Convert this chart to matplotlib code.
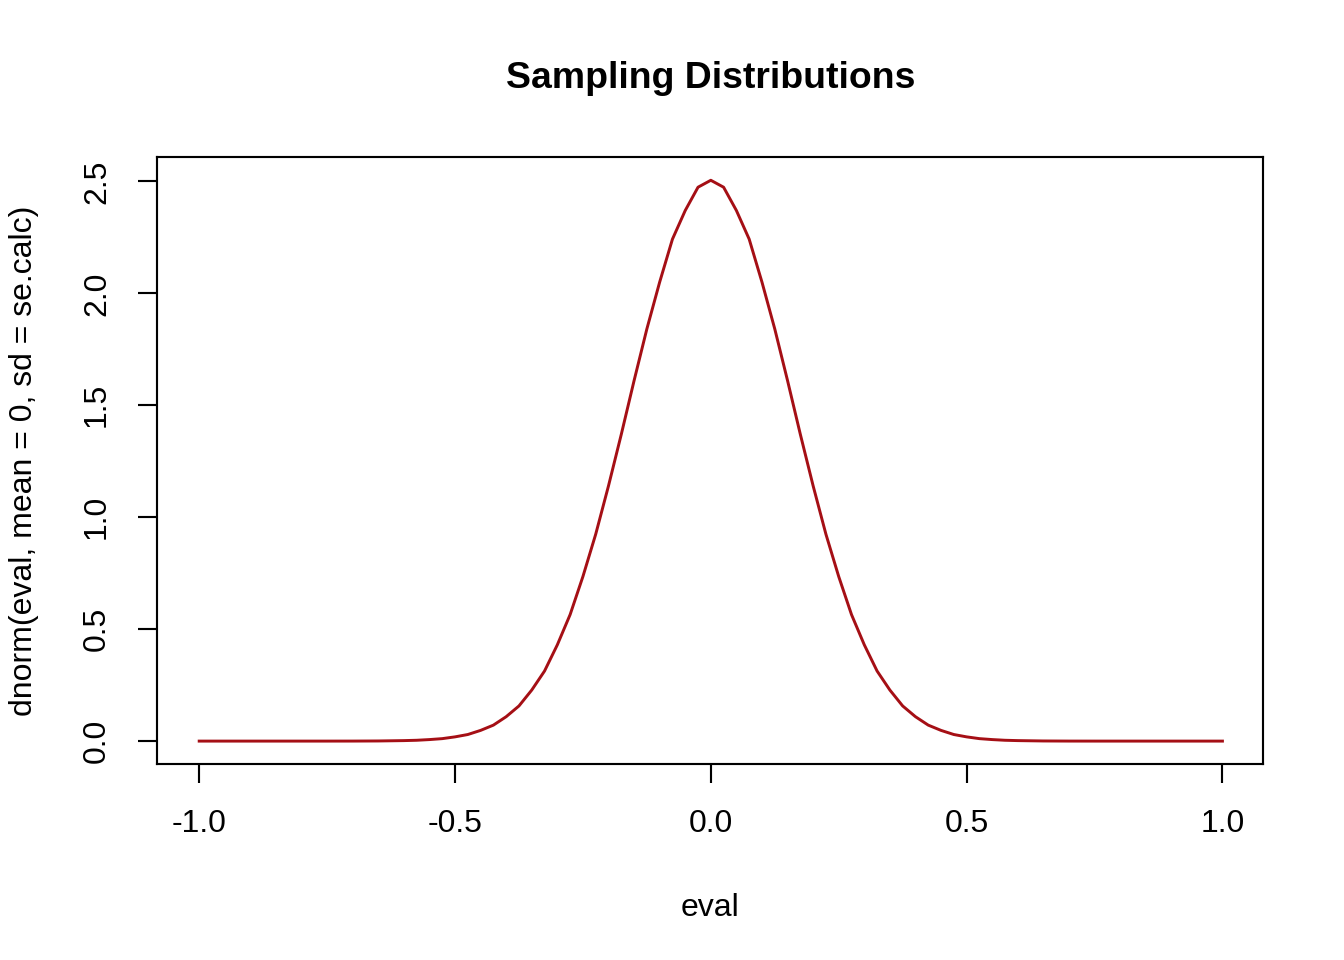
import matplotlib
matplotlib.use("Agg")
import matplotlib.pyplot as plt

# right half of the curve, read at 0.025 steps from x = 0 to 1
right_x = [0.0,0.025,0.05,0.075,0.1,0.125,0.15,0.175,0.2,0.225,0.25,0.275,0.3,0.325,0.35,0.375,0.4,0.425,0.45,0.475,
           0.5,0.525,0.55,0.575,0.6,0.65,0.7,0.75,0.8,0.85,0.9,0.95,1.0]
right_y = [2.505,2.474,2.37,2.242,2.05,1.841,1.61,1.370,1.14,0.924,0.735,0.565,0.43,0.313,0.228,0.157,0.109,0.0713,0.0478,0.0294,
           0.0189,0.0110,0.0068,0.0037,0.0022,0.0006,0.0001,0,0,0,0,0,0]
x_vals = [-v for v in right_x[::-1]] + right_x[1:]
y_vals = right_y[::-1] + right_y[1:]
xticks = [-1.0,-0.5,0.0,0.5,1.0]
yticks = [0.0,0.5,1.0,1.5,2.0,2.5]

plt.rcParams['font.family'] = ['Liberation Sans', 'DejaVu Sans']
fig = plt.figure(figsize=(7, 5), dpi=192)
ax = fig.add_axes([0.117, 0.204, 0.823, 0.632])
ax.plot(x_vals, y_vals, color='#a50f15', lw=1.1)
ax.set_xlim(-1.082, 1.080)
ax.set_ylim(-0.103, 2.607)
ax.set_xticks(xticks)
ax.set_xticklabels([f"{v:.1f}" for v in xticks])
ax.set_yticks(yticks)
ax.set_yticklabels([f"{v:.1f}" for v in yticks], rotation=90, va='center')
ax.tick_params(direction='out', length=7, width=0.8, labelsize=12, pad=10)
for s in ax.spines.values():
    s.set_linewidth(0.8)
ax.set_xlabel("eval", fontsize=12, labelpad=20)
ax.set_ylabel("dnorm(eval, mean = 0, sd = se.calc)", fontsize=12, labelpad=16)
ax.set_title("Sampling Distributions", fontsize=14, fontweight='bold', pad=26)
fig.savefig("out.png", dpi=192)
